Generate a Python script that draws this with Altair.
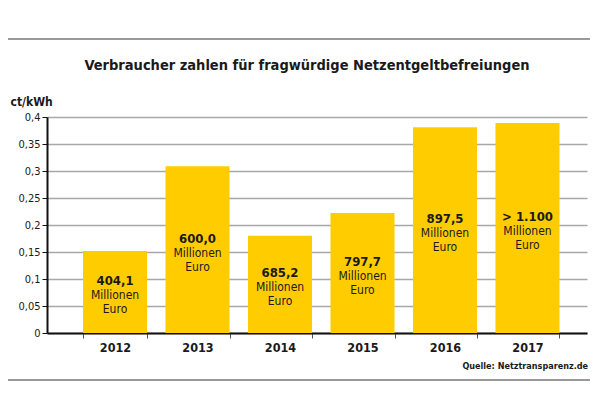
import altair as alt
import pandas as pd

years = ["2012", "2013", "2014", "2015", "2016", "2017"]
ct_per_kwh = [0.152, 0.309, 0.180, 0.222, 0.381, 0.389]
amounts = ["404,1", "600,0", "685,2", "797,7", "897,5", "> 1.100"]
unit_line1 = "Millionen"
unit_line2 = "Euro"
y_ticks = [0, 0.05, 0.1, 0.15, 0.2, 0.25, 0.3, 0.35, 0.4]

title_text = "Verbraucher zahlen für fragwürdige Netzentgeltbefreiungen"
y_title = "ct/kWh"
source_text = "Quelle: Netztransparenz.de"

df = pd.DataFrame({"year": years, "value": ct_per_kwh, "amount": amounts,
                   "l1": unit_line1, "l2": unit_line2})

FONT = "DejaVu Sans Condensed, Roboto"
BAR = "#FFCC00"
INK = "#1a1a1a"

x_scale = alt.Scale(paddingInner=0.224, paddingOuter=0.385, align=0.567)
y_scale = alt.Scale(domain=[0, 0.4], nice=False)

x_axis = alt.Axis(title=None, tickBand="extent", domainColor="#111",
                  domainWidth=2, tickColor="#555", tickSize=5, tickWidth=1,
                  labelFont=FONT, labelFontSize=12.5, labelFontWeight="bold",
                  labelColor=INK, labelPadding=3, labelAngle=0, grid=False)
y_axis = alt.Axis(values=y_ticks, title=y_title, titleAngle=0, titleX=-37,
                  titleY=-16, titleAlign="left", titleBaseline="middle",
                  titleFont=FONT, titleFontSize=12, titleFontWeight="bold",
                  titleColor=INK, labelOverlap=False,
                  labelExpr="replace(format(datum.value, ''), '.', ',')",
                  labelFont=FONT, labelFontSize=11, labelColor=INK,
                  labelPadding=2, domainColor="#111", domainWidth=2,
                  tickColor="#111", tickSize=5, gridColor="#a8a8a8",
                  gridWidth=1.5)

base = alt.Chart(df)
bars = base.mark_bar(color=BAR).encode(
    x=alt.X("year:N", sort=years, scale=x_scale, axis=x_axis),
    y=alt.Y("value:Q", scale=y_scale, axis=y_axis, title=y_title))

mid = base.transform_calculate(mid="datum.value / 2")
xt = alt.X("year:N", sort=years, scale=x_scale, axis=x_axis)
yt = alt.Y("mid:Q", scale=y_scale, axis=y_axis, title=y_title)
t0 = mid.mark_text(font=FONT, fontSize=13, fontWeight="bold", color=INK, dy=-11).encode(
    x=xt, y=yt, text="amount:N")
t1 = mid.mark_text(font=FONT, fontSize=12, color=INK, dy=3).encode(
    x=xt, y=yt, text="l1:N")
t2 = mid.mark_text(font=FONT, fontSize=12, color=INK, dy=17).encode(
    x=xt, y=yt, text="l2:N")

deco = alt.Chart(pd.DataFrame({"t": [title_text], "s": [source_text]}))
top_rule = deco.mark_rule(color="#999", strokeWidth=2).encode(
    x=alt.value(-39), x2=alt.value(543), y=alt.value(-78))
bottom_rule = deco.mark_rule(color="#999", strokeWidth=2).encode(
    x=alt.value(-39), x2=alt.value(543), y=alt.value(263))
title = deco.mark_text(font=FONT, fontSize=14.5, fontWeight="bold", color=INK).encode(
    x=alt.value(260), y=alt.value(-51), text="t:N")
source = deco.mark_text(font=FONT, fontSize=9, fontWeight="bold", color=INK,
                        align="right").encode(
    x=alt.value(541), y=alt.value(249), text="s:N")

chart = alt.layer(bars, t0, t1, t2, top_rule, bottom_rule, title, source).properties(
    width=540, height=216, background="white",
    autosize=alt.AutoSizeParams(type="none"),
    padding={"left": 39, "top": 109, "right": 4, "bottom": 52},
).configure_view(stroke=None)

chart.save("out.html", embed_options={"renderer": "svg", "actions": False})
